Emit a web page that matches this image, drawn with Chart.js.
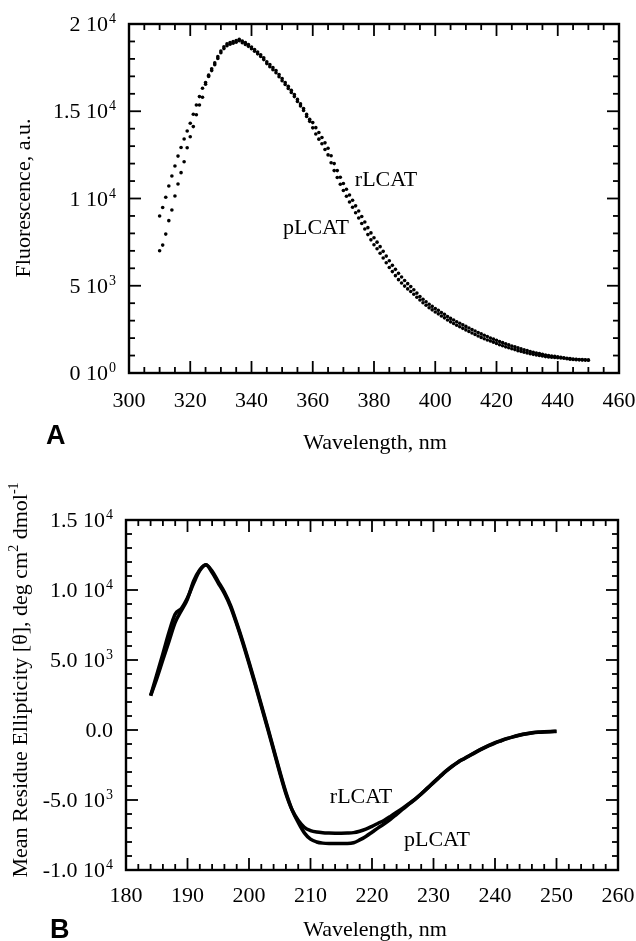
<!DOCTYPE html>
<html><head><meta charset="utf-8">
<script src="https://cdn.jsdelivr.net/npm/chart.js@4.4.1/dist/chart.umd.min.js"></script>
<style>
html,body{margin:0;padding:0;background:#fff;}
#wrap{position:relative;width:636px;height:941px;overflow:hidden;background:#fff;}
canvas{position:absolute;left:0;}
</style></head><body>
<div id="wrap">
<canvas id="c1" width="636" height="470" style="top:0;width:636px;height:470px"></canvas>
<canvas id="c2" width="636" height="471" style="top:470px;width:636px;height:471px"></canvas>
</div>
<script>
// ---------- Panel A: fluorescence ----------
const wavelengthA = [310,311,312,313,314,315,316,317,318,319,320,321,322,323,324,325,326,327,328,329,
330,331,332,333,334,335,336,337,338,339,340,341,342,343,344,345,346,347,348,349,
350,351,352,353,354,355,356,357,358,359,360,361,362,363,364,365,366,367,368,369,
370,371,372,373,374,375,376,377,378,379,380,381,382,383,384,385,386,387,388,389,
390,391,392,393,394,395,396,397,398,399,400,401,402,403,404,405,406,407,408,409,
410,411,412,413,414,415,416,417,418,419,420,421,422,423,424,425,426,427,428,429,
430,431,432,433,434,435,436,437,438,439,440,441,442,443,444,445,446,447,448,449,450];
const rLCAT_A = [9000,9480,10070,10720,11290,11860,12430,12920,13410,13870,
14310,14830,15360,15840,16320,16650,17070,17430,17770,18130,
18450,18690,18860,18940,19000,19050,19120,19030,18930,18820,
18680,18540,18390,18240,18060,17840,17670,17500,17330,17100,
16870,16650,16430,16200,15960,15680,15420,15160,14820,14540,
14350,14060,13780,13500,13190,12880,12450,12000,11600,11220,
10860,10530,10200,9900,9580,9280,8970,8650,8330,8030,
7750,7500,7240,6970,6700,6430,6170,5940,5710,5500,
5300,5120,4950,4770,4580,4380,4230,4080,3940,3820,
3700,3590,3470,3360,3240,3130,3040,2940,2850,2760,
2670,2580,2490,2410,2320,2240,2160,2090,2010,1940,
1870,1800,1740,1680,1610,1550,1500,1440,1380,1330,
1290,1230,1190,1150,1110,1070,1030,1000,975,950,
925,900,875,845,825,800,785,775,765,755,745];
const pLCAT_A = [7010,7330,7960,8730,9340,10140,10830,11480,12110,12910,
13540,14120,14800,15360,15800,16550,16990,17330,17670,18030,
18350,18590,18760,18840,18900,18950,19040,18930,18830,18720,
18580,18440,18290,18140,17960,17730,17550,17380,17210,16980,
16750,16530,16310,16080,15840,15560,15300,15040,14700,14420,
14050,13700,13400,13140,12810,12500,12050,11600,11200,10820,
10460,10130,9800,9500,9180,8880,8570,8250,7930,7630,
7350,7120,6860,6590,6320,6050,5810,5580,5350,5160,
4980,4820,4670,4510,4340,4180,4030,3880,3740,3620,
3500,3390,3270,3160,3040,2930,2840,2740,2650,2560,
2470,2380,2290,2210,2120,2040,1960,1890,1830,1760,
1690,1620,1560,1500,1450,1390,1340,1280,1240,1190,
1150,1110,1070,1030,1010,970,940,920,905,890,
875,860,845,815,795,770,765,755,745,740,735];
const xTicksA = [300,320,340,360,380,400,420,440,460];
const yTicksA = [0,5000,10000,15000,20000];
const yMantA = ["0","5","1","1.5","2"];
const yExpA = ["0","3","4","4","4"];

// ---------- Panel B: circular dichroism ----------
const wavelengthB = [184,185,186,187,188,189,190,191,192,193,194,195,196,197,198,199,200,201,202,203,
204,205,206,207,208,209,210,211,212,213,214,215,216,217,218,219,220,221,222,223,
224,225,226,227,228,229,230,231,232,233,234,235,236,237,238,239,240,241,242,243,
244,245,246,247,248,249,250];
const rLCAT_B = [2450,3950,5450,7000,8280,8680,9440,10480,11390,11780,
11250,10500,9750,8800,7550,6200,4750,3250,1700,150,
-1450,-3050,-4550,-5700,-6450,-6950,-7180,-7290,-7340,-7360,
-7370,-7370,-7360,-7330,-7230,-7080,-6880,-6660,-6440,-6170,
-5880,-5580,-5260,-4930,-4570,-4170,-3760,-3360,-2960,-2610,
-2300,-2050,-1800,-1560,-1330,-1120,-930,-770,-620,-490,
-380,-290,-220,-170,-140,-120,-110];
const pLCAT_B = [2450,3670,5020,6350,7690,8520,9360,10650,11450,11800,
11350,10600,9850,8900,7650,6300,4850,3350,1800,250,
-1350,-2950,-4450,-5700,-6600,-7350,-7800,-8000,-8080,-8100,
-8100,-8100,-8100,-8050,-7850,-7600,-7300,-6990,-6700,-6380,
-6020,-5660,-5300,-4950,-4560,-4150,-3740,-3340,-2940,-2590,
-2280,-2030,-1780,-1540,-1310,-1100,-910,-750,-600,-470,
-360,-270,-200,-150,-120,-100,-90];
const xTicksB = [180,190,200,210,220,230,240,250,260];
const yTicksB = [-10000,-5000,0,5000,10000,15000];
const yMantB = ["-1.0","-5.0","0.0","5.0","1.0","1.5"];
const yExpB = ["4","3","","3","4","4"];

const SERIF = '"Liberation Serif","Times New Roman",serif';
const TICKFONT = 22;

function drawSci(ctx, mant, exp, xRight, yMid){
  const main = exp === "" ? mant : mant + " 10";
  ctx.font = TICKFONT + 'px ' + SERIF;
  const w1 = ctx.measureText(main).width;
  ctx.font = '14px ' + SERIF;
  const w2 = exp === "" ? 0 : ctx.measureText(exp).width + 1;
  const base = yMid + 7;
  ctx.textAlign = 'left'; ctx.textBaseline = 'alphabetic';
  ctx.font = TICKFONT + 'px ' + SERIF;
  ctx.fillText(main, xRight - w1 - w2, base);
  if (exp !== ""){ ctx.font = '14px ' + SERIF; ctx.fillText(exp, xRight - w2 + 1, base - 8); }
}

function drawRich(ctx, segs, cx, baseY, size){
  let total = 0;
  segs.forEach(s => { ctx.font = (s[1] ? Math.round(size*0.62) : size) + 'px ' + SERIF; total += ctx.measureText(s[0]).width; });
  let x = cx - total/2;
  ctx.textAlign = 'left'; ctx.textBaseline = 'alphabetic';
  segs.forEach(s => {
    ctx.font = (s[1] ? Math.round(size*0.62) : size) + 'px ' + SERIF;
    ctx.fillText(s[0], x, s[1] ? baseY - size*0.42 : baseY);
    x += ctx.measureText(s[0]).width;
  });
}

function framePlugin(o){
  return {
    id: 'frame_' + o.name,
    afterDraw(chart){
      const ctx = chart.ctx, a = chart.chartArea, xs = chart.scales.x, ys = chart.scales.y;
      ctx.save();
      ctx.strokeStyle = '#000'; ctx.fillStyle = '#000';
      ctx.lineWidth = 1.8;
      const line = (x1,y1,x2,y2)=>{ctx.beginPath();ctx.moveTo(x1,y1);ctx.lineTo(x2,y2);ctx.stroke();};
      const isMaj = (v, start, step) => Math.abs((v-start)/step - Math.round((v-start)/step)) < 1e-6;
      for (let v = o.xMin; v <= o.xMax + 1e-9; v += o.xMinor){
        const px = xs.getPixelForValue(v); const L = isMaj(v,o.xMin,o.xMajor) ? 12 : 6;
        line(px, a.bottom, px, a.bottom - L); line(px, a.top, px, a.top + L);
      }
      for (let v = o.yMin; v <= o.yMax + 1e-9; v += o.yMinor){
        const py = ys.getPixelForValue(v); const L = isMaj(v,o.yMin,o.yMajor) ? 12 : 6;
        line(a.left, py, a.left + L, py); line(a.right, py, a.right - L, py);
      }
      ctx.lineWidth = 2.4;
      ctx.strokeRect(a.left, a.top, a.right - a.left, a.bottom - a.top);
      o.xTicks.forEach(v => { ctx.font = TICKFONT + 'px ' + SERIF; ctx.textAlign='center'; ctx.textBaseline='alphabetic'; ctx.fillText(String(v), xs.getPixelForValue(v), a.bottom + o.xLabelGap); });
      o.yTicks.forEach((v,i) => drawSci(ctx, o.yMant[i], o.yExp[i], a.left - 13, ys.getPixelForValue(v)));
      ctx.font = o.titleSize + 'px ' + SERIF; ctx.textAlign = 'center'; ctx.textBaseline='alphabetic';
      ctx.fillText('Wavelength, nm', o.xTitleX, o.xTitleY);
      ctx.save(); ctx.translate(o.yTitleX, o.yTitleY); ctx.rotate(-Math.PI/2);
      drawRich(ctx, o.yTitle, 0, 0, o.titleSize);
      ctx.restore();
      ctx.font = 'bold 27px "Liberation Sans",Arial,sans-serif'; ctx.textAlign = 'left'; ctx.textBaseline='alphabetic';
      ctx.fillText(o.letter, o.letterX, o.letterY);
      ctx.font = '22px ' + SERIF; ctx.textAlign = 'center'; ctx.textBaseline = 'middle';
      o.labels.forEach(l => ctx.fillText(l[0], l[1], l[2]));
      ctx.restore();
    }
  };
}

Chart.defaults.font.family = SERIF;

new Chart(document.getElementById('c1'), {
  type: 'scatter',
  data: { datasets: [
    { label: 'rLCAT', data: wavelengthA.map((x,i)=>({x:x, y:rLCAT_A[i]})), pointRadius: 1.8, pointBackgroundColor: '#000', pointBorderWidth: 0, borderColor:'#000' },
    { label: 'pLCAT', data: wavelengthA.map((x,i)=>({x:x, y:pLCAT_A[i]})), pointRadius: 1.8, pointBackgroundColor: '#000', pointBorderWidth: 0, borderColor:'#000' }
  ]},
  options: {
    responsive: false, animation: false, devicePixelRatio: 1,
    layout: { padding: { left: 129, right: 17, top: 24, bottom: 97 } },
    scales: {
      x: { type: 'linear', min: 300, max: 460, display: false },
      y: { type: 'linear', min: 0, max: 20000, display: false }
    },
    plugins: { legend: { display: false }, tooltip: { enabled: false } }
  },
  plugins: [framePlugin({
    name:'A', xMin:300, xMax:460, xMinor:5, xMajor:20, yMin:0, yMax:20000, yMinor:1000, yMajor:5000,
    xTicks: xTicksA, yTicks: yTicksA, yMant: yMantA, yExp: yExpA, xLabelGap: 34,
    titleSize: 22, xTitleX: 375, xTitleY: 449,
    yTitle: [['Fluorescence, a.u.',0]], yTitleX: 30, yTitleY: 198,
    letter: 'A', letterX: 46, letterY: 444,
    labels: [['rLCAT', 386, 180], ['pLCAT', 316, 228]]
  })]
});

new Chart(document.getElementById('c2'), {
  type: 'line',
  data: { datasets: [
    { label: 'rLCAT', data: wavelengthB.map((x,i)=>({x:x, y:rLCAT_B[i]})), borderColor: '#000', borderWidth: 3.5, pointRadius: 0, cubicInterpolationMode: 'monotone', fill: false },
    { label: 'pLCAT', data: wavelengthB.map((x,i)=>({x:x, y:pLCAT_B[i]})), borderColor: '#000', borderWidth: 3.5, pointRadius: 0, cubicInterpolationMode: 'monotone', fill: false }
  ]},
  options: {
    responsive: false, animation: false, devicePixelRatio: 1,
    layout: { padding: { left: 126, right: 18, top: 50, bottom: 71 } },
    scales: {
      x: { type: 'linear', min: 180, max: 260, display: false },
      y: { type: 'linear', min: -10000, max: 15000, display: false }
    },
    plugins: { legend: { display: false }, tooltip: { enabled: false } }
  },
  plugins: [framePlugin({
    name:'B', xMin:180, xMax:260, xMinor:2, xMajor:10, yMin:-10000, yMax:15000, yMinor:1000, yMajor:5000,
    xTicks: xTicksB, yTicks: yTicksB, yMant: yMantB, yExp: yExpB, xLabelGap: 32,
    titleSize: 22, xTitleX: 375, xTitleY: 466,
    yTitle: [['Mean Residue Ellipticity [\u03B8], deg cm',0],['2',1],[' dmol',0],['-1',1]], yTitleX: 27, yTitleY: 210,
    letter: 'B', letterX: 50, letterY: 468,
    labels: [['rLCAT', 361, 327], ['pLCAT', 437, 370]]
  })]
});
</script>
</body></html>
